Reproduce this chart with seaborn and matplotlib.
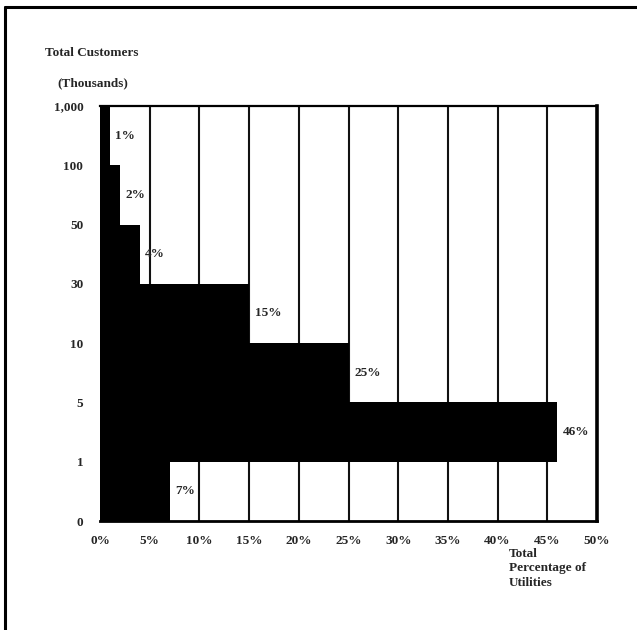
import pandas as pd
import seaborn as sns
import matplotlib.pyplot as plt
from matplotlib.lines import Line2D

# Customer-size bands (top to bottom) and share of utilities in each
bands = ['1,000-100', '100-50', '50-30', '30-10', '10-5', '5-1', '1-0']
share = [1, 2, 4, 15, 25, 46, 7]
y_tick_labels = ['1,000', '100', '50', '30', '10', '5', '1', '0']
x_ticks = [0, 5, 10, 15, 20, 25, 30, 35, 40, 45, 50]

df = pd.DataFrame({'band': bands, 'share': share})

sns.set_style("white")
plt.rcParams['font.family'] = ['Liberation Serif', 'DejaVu Serif']
plt.rcParams['font.weight'] = 'bold'

fig = plt.figure(figsize=(6.37, 6.30), dpi=100)
ax = fig.add_axes([100 / 637, 1 - 521 / 630, 497 / 637, 415 / 630])

# Vertical grid lines every 5%
for x in x_ticks[1:-1]:
    ax.axvline(x, color='#111111', lw=1.5, zorder=0)

sns.barplot(data=df, x='share', y='band', orient='h', width=1.0,
            color='black', saturation=1, linewidth=0, ax=ax, zorder=2)

ax.set_xlim(0, 50)
ax.set_ylim(len(bands) - 0.5, -0.5)

ax.set_yticks([i - 0.5 for i in range(len(y_tick_labels))])
ax.set_yticklabels(y_tick_labels, fontsize=9.5, fontweight='bold')
ax.set_xticks(x_ticks)
ax.set_xticklabels([f'{v}%' for v in x_ticks], fontsize=9.5, fontweight='bold')
ax.tick_params(axis='y', length=0, pad=12)
ax.tick_params(axis='x', length=0, pad=10)
ax.set_xlabel('')
ax.set_ylabel('')

for side in ['top', 'bottom', 'right']:
    ax.spines[side].set_color('black')
ax.spines['top'].set_linewidth(1.6)
ax.spines['bottom'].set_linewidth(2.0)
ax.spines['right'].set_linewidth(2.6)
ax.spines['left'].set_visible(False)

# Percentage labels beside each bar
for i, v in enumerate(share):
    ax.annotate(f'{v}%', xy=(v, i), xytext=(4, 0), textcoords='offset points',
                fontsize=9.5, fontweight='bold', va='center', ha='left',
                zorder=3)

# Axis titles
fig.text(45 / 637, 1 - 53 / 630, 'Total Customers', fontsize=9.5,
         fontweight='bold', va='center', ha='left')
fig.text(57 / 637, 1 - 83 / 630, '(Thousands)', fontsize=9.5,
         fontweight='bold', va='center', ha='left')
fig.text(509 / 637, 1 - 548 / 630, 'Total\nPercentage of\nUtilities',
         fontsize=9.5, fontweight='bold', va='top', ha='left',
         linespacing=1.25)

# Page frame (left and top edges)
fig.add_artist(Line2D([5 / 637, 5 / 637], [0, 1 - 7 / 630],
                      transform=fig.transFigure, color='black', lw=2.2))
fig.add_artist(Line2D([5 / 637, 1], [1 - 7 / 630, 1 - 7 / 630],
                      transform=fig.transFigure, color='black', lw=2.2))

fig.savefig('out.png', dpi=100, facecolor='white')
